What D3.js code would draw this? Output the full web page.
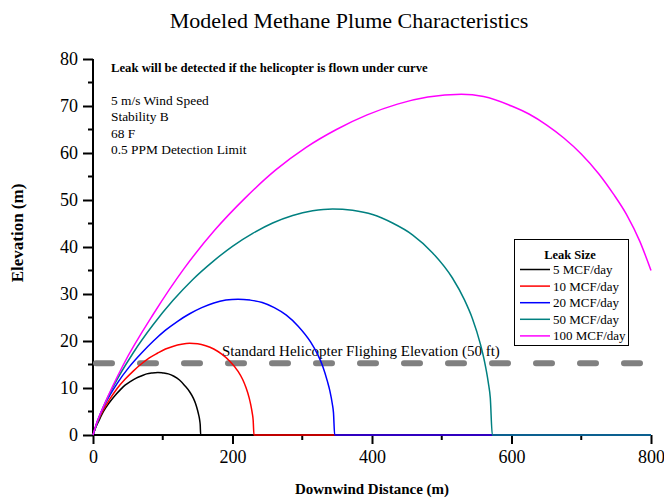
<!DOCTYPE html>
<html>
<head>
<meta charset="utf-8">
<script src="https://cdn.jsdelivr.net/npm/d3@7"></script>
<style>
  body { margin: 0; background: #fff; }
  text { font-family: "Liberation Serif", "Times New Roman", serif; fill: #000; }
</style>
</head>
<body>
<div id="plot"></div>
<script>
// values (distance in m, elevation in m)
const seriesNames = ["5 MCF/day", "10 MCF/day", "20 MCF/day", "50 MCF/day", "100 MCF/day"];
const seriesColors = ["#000000", "#ff0000", "#0000ff", "#008080", "#ff00ff"];

const x5 = [0, 3, 8, 15, 23, 31, 39, 46, 54, 62, 70, 77, 85, 93, 100, 108, 116, 124, 131, 139, 144, 147, 150, 151.5, 153, 153.7, 154.4, 800];
const y5 = [0, 1.3, 2.9, 5.0, 6.8, 8.3, 9.6, 10.6, 11.4, 12.1, 12.6, 13.0, 13.2, 13.3, 13.2, 13.0, 12.5, 11.7, 10.6, 9.1, 7.8, 6.7, 5.2, 4.3, 3.1, 2.2, 0, 0];

const x10 = [0, 4.6, 11.5, 23.1, 34.6, 46.2, 57.7, 69.2, 80.8, 92.3, 103.9, 115.4, 126.9, 138.5, 150, 161.6, 173.1, 184.6, 196.2, 207.7, 214.6, 219.3, 223.9, 226.2, 228.5, 229.6, 230.8, 800];
const y10 = [0, 2.1, 4.4, 7.4, 9.9, 11.9, 13.6, 15.1, 16.4, 17.4, 18.3, 18.9, 19.3, 19.5, 19.4, 19.0, 18.3, 17.2, 15.7, 13.6, 11.8, 10.1, 7.9, 6.4, 4.5, 3.2, 0, 0];

const x20 = [0, 6.9, 17.3, 34.7, 52, 69.3, 86.6, 104, 121.3, 138.6, 155.9, 173.3, 190.6, 207.9, 225.2, 242.6, 259.9, 277.2, 294.5, 311.9, 322.2, 329.2, 336.1, 339.6, 343, 344.8, 346.5, 800];
const y20 = [0, 3.2, 6.6, 11.0, 14.5, 17.4, 20.0, 22.3, 24.2, 25.8, 27.1, 28.1, 28.7, 28.9, 28.7, 28.2, 27.1, 25.5, 23.1, 19.8, 17.1, 14.7, 11.4, 9.4, 6.7, 4.7, 0, 0];

const x50 = [0, 11.5, 28.6, 57.3, 85.9, 114.5, 143.1, 171.8, 200.4, 229, 257.6, 286.3, 314.9, 343.5, 372.1, 400.8, 429.4, 458, 486.6, 515.3, 532.4, 543.9, 555.3, 561.1, 566.8, 569.6, 572.5, 800];
const y50 = [0, 4.8, 10.2, 17.4, 23.4, 28.6, 33.1, 36.9, 40.2, 42.9, 45.1, 46.7, 47.7, 48.1, 47.8, 46.9, 45.1, 42.6, 38.8, 33.4, 28.8, 24.8, 19.4, 15.8, 11.1, 7.9, 0, 0];

const x100 = [0, 5, 17.5, 43.7, 87.3, 131, 174.6, 218, 262, 305.6, 349, 393, 436.5, 480, 528, 560, 600, 625, 650, 675, 700, 725, 746, 765, 784, 800];
const y100 = [0, 2.4, 6.9, 15.0, 25.9, 35.5, 43.6, 50.4, 56.4, 61.2, 65.0, 68.1, 70.4, 71.9, 72.5, 72.0, 70.0, 68.3, 66.0, 63.2, 59.8, 55.6, 51.3, 46.9, 41.2, 35.0];

const xTicks = [0, 200, 400, 600, 800];
const yTicks = [0, 10, 20, 30, 40, 50, 60, 70, 80];
const flightElevation = 15.24; // 50 ft

const notes = ["5 m/s Wind Speed", "Stability B", "68 F", "0.5 PPM Detection Limit"];

const xs = [x5, x10, x20, x50, x100];
const ys = [y5, y10, y20, y50, y100];

const width = 664, height = 498;

const svg = d3.select("#plot")
  .append("svg")
    .attr("width", width)
    .attr("height", height);

const x = d3.scaleLinear().domain([0, 800]).range([93, 651]);
const y = d3.scaleLinear().domain([0, 80]).range([435, 59]);

// title
svg.append("text")
    .attr("x", 349)
    .attr("y", 28)
    .attr("text-anchor", "middle")
    .style("font-size", "22px")
    .text("Modeled Methane Plume Characteristics");

// axes
const xAxis = svg.append("g")
    .attr("transform", "translate(0," + y(0) + ")")
    .call(d3.axisBottom(x).tickValues(xTicks).tickSize(9).tickPadding(6).tickFormat(d3.format("d")));

const yAxis = svg.append("g")
    .attr("transform", "translate(" + x(0) + ",0)")
    .call(d3.axisLeft(y).tickValues(yTicks).tickSize(10).tickPadding(5).tickFormat(d3.format("d")));

// minor ticks
xAxis.selectAll(".minor")
  .data(d3.range(100, 800, 200))
  .enter().append("line")
    .attr("x1", d => x(d)).attr("x2", d => x(d))
    .attr("y1", 0).attr("y2", 5);

yAxis.selectAll(".minor")
  .data(d3.range(5, 80, 10))
  .enter().append("line")
    .attr("y1", d => y(d)).attr("y2", d => y(d))
    .attr("x1", 0).attr("x2", -5);

[xAxis, yAxis].forEach(function(a) {
  a.select(".domain").attr("stroke", "#000").attr("stroke-width", 2).attr("d", null);
  a.selectAll("line").attr("stroke", "#000").attr("stroke-width", 2);
  a.selectAll("text")
    .style("font-family", "'Liberation Serif', serif")
    .style("font-size", "18px")
    .attr("fill", "#000");
});
xAxis.select(".domain").attr("d", "M" + x(0) + ",0H" + x(800));
yAxis.select(".domain").attr("d", "M0," + y(0) + "V" + y(80));

// axis titles
svg.append("text")
    .attr("x", 372)
    .attr("y", 494)
    .attr("text-anchor", "middle")
    .style("font-size", "15px")
    .style("font-weight", "bold")
    .text("Downwind Distance (m)");

svg.append("text")
    .attr("transform", "translate(23,233) rotate(-90)")
    .attr("text-anchor", "middle")
    .style("font-size", "17px")
    .style("font-weight", "bold")
    .text("Elevation (m)");

// flight elevation line
svg.append("line")
    .attr("x1", x(0) + 3).attr("x2", x(792))
    .attr("y1", y(flightElevation)).attr("y2", y(flightElevation))
    .attr("stroke", "#808080")
    .attr("stroke-width", 6)
    .attr("stroke-linecap", "round")
    .attr("stroke-dasharray", "16,28");

svg.append("text")
    .attr("x", 222)
    .attr("y", 356)
    .style("font-size", "15px")
    .text("Standard Helicopter Flighing Elevation (50 ft)");

// plume curves
const line = d3.line()
  .x(d => x(d[0]))
  .y(d => y(d[1]))
  .curve(d3.curveMonotoneX);

xs.forEach(function(xv, i) {
  svg.append("path")
    .datum(xv.map((v, j) => [v, ys[i][j]]))
    .attr("d", line)
    .attr("fill", "none")
    .attr("stroke", seriesColors[i])
    .attr("stroke-width", 1.5);
});

// notes
svg.append("text")
    .attr("x", 111)
    .attr("y", 72)
    .style("font-size", "12.7px")
    .style("font-weight", "bold")
    .text("Leak will be detected if the helicopter is flown under curve");

svg.selectAll(".note")
  .data(notes)
  .enter().append("text")
    .attr("x", 111)
    .attr("y", (d, i) => 105 + i * 16.3)
    .style("font-size", "13.4px")
    .text(d => d);

// legend
const legend = svg.append("g");
legend.append("rect")
    .attr("x", 514.5).attr("y", 239.5)
    .attr("width", 114).attr("height", 106)
    .attr("fill", "#fff")
    .attr("stroke", "#000")
    .attr("stroke-width", 1);

legend.append("text")
    .attr("x", 570)
    .attr("y", 259)
    .attr("text-anchor", "middle")
    .style("font-size", "12.5px")
    .style("font-weight", "bold")
    .text("Leak Size");

seriesNames.forEach(function(name, i) {
  const ly = 269.5 + i * 16.6;
  legend.append("line")
    .attr("x1", 520).attr("x2", 550)
    .attr("y1", ly).attr("y2", ly)
    .attr("stroke", seriesColors[i])
    .attr("stroke-width", 1.5);
  legend.append("text")
    .attr("x", 553)
    .attr("y", ly + 4.5)
    .style("font-size", "13px")
    .text(name);
});
</script>
</body>
</html>
